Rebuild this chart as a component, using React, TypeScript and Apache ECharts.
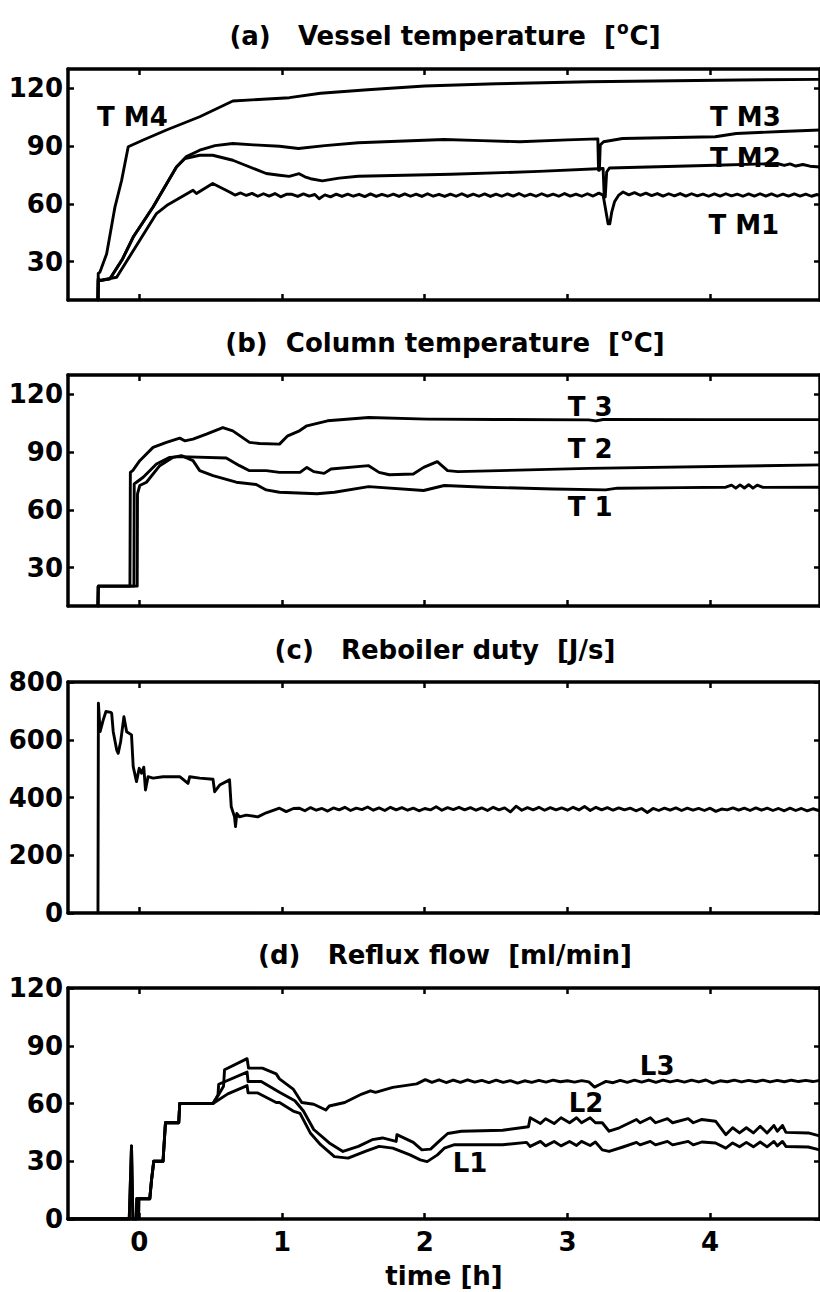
import React, { useEffect, useRef } from 'react';
import * as echarts from 'echarts';

// ---------- tick labels ----------
const X_TICKS = [0, 1, 2, 3, 4];
const Y_TICKS_TEMP = [30, 60, 90, 120];
const Y_TICKS_DUTY = [0, 200, 400, 600, 800];
const Y_TICKS_FLOW = [0, 30, 60, 90, 120];

// ---------- panel titles ----------
const TITLES = [
  '(a)   Vessel temperature  [{sup|o}C]',
  '(b)  Column temperature  [{sup|o}C]',
  '(c)   Reboiler duty  [J/s]',
  '(d)   Reflux flow  [ml/min]',
];
const X_NAME = 'time [h]';

// ---------- (a) vessel temperatures ----------
const TM4 = [[-0.29,10],[-0.288,23.8],[-0.276,24.5],[-0.229,34],[-0.171,58.3],[-0.124,72.2],[-0.078,89.6],[0.027,93.1],[0.19,98.3],[0.423,105.2],[0.655,113.4],[1.052,115.1],[1.27,117.4],[1.6,119.2],[2.0,121.2],[2.5,122.3],[3.15,123.4],[3.6,123.8],[4.2,124.3],[4.77,124.6]];
const TM3 = [[-0.29,10],[-0.288,21],[-0.276,20.1],[-0.206,21],[-0.12,31],[-0.043,42.7],[0.096,58.3],[0.26,79.1],[0.33,84.5],[0.423,87.8],[0.53,90.2],[0.655,91.3],[0.8,90.6],[0.982,89.9],[1.115,88.7],[1.3,90.2],[1.534,91.7],[2.135,93.4],[2.4,92.8],[2.666,92.2],[3.0,93.2],[3.213,93.7],[3.218,77.4],[3.224,77.4],[3.23,90.5],[3.253,92.2],[3.386,93.9],[4.036,94.8],[4.183,96.5],[4.5,97.5],[4.77,98.3]];
const TM2 = [[-0.29,10],[-0.288,21],[-0.276,20.1],[-0.206,21],[-0.12,31],[-0.043,42.7],[0.096,58.3],[0.26,79.1],[0.32,83.5],[0.423,85.2],[0.514,85.2],[0.655,82.6],[0.889,75.7],[0.982,74.8],[1.05,74.2],[1.12,75.6],[1.16,74],[1.2,73],[1.282,71.9],[1.4,73.3],[1.534,74.3],[2.184,75.3],[2.8,76.8],[3.25,78.3],[3.258,63.5],[3.265,63.5],[3.275,76.5],[3.295,78.6],[4.036,80],[4.47,80.9],[4.52,79.9],[4.56,80.7],[4.6,79.6],[4.65,80.4],[4.7,79.5],[4.77,79.1]];
const TM1 = [[-0.29,10],[-0.288,20.1],[-0.159,21.8],[0.12,54.9],[0.2,59.5],[0.376,67],[0.4,65.3],[0.514,70.5],[0.632,66.1],
  [0.67,64.5],[0.71,65.6],[0.75,64.3],[0.79,65.4],[0.83,63.9],[0.87,65.2],[0.91,64.0],[0.95,65.3],[0.99,63.6],[1.03,64.9],[1.07,64.9],[1.11,63.8],[1.15,65.1],[1.19,64.0],[1.23,64.8],[1.26,62.6],[1.30,64.6],[1.34,63.6],[1.38,65.0],[1.42,63.8],[1.46,65.0],[1.50,63.9],[1.54,64.9],[1.58,63.7],[1.62,65.1],[1.66,63.8],[1.70,64.9],[1.74,63.9],[1.78,65.0],[1.82,63.8],[1.86,65.1],[1.90,63.9],[1.94,65.0],[1.98,63.8],[2.02,65.2],[2.06,63.9],[2.10,64.9],[2.14,63.8],[2.18,65.0],[2.22,63.9],[2.26,65.2],[2.30,63.8],[2.34,65.0],[2.38,63.9],[2.42,65.1],[2.46,63.8],[2.50,65.0],[2.54,63.9],[2.58,65.1],[2.62,64.0],[2.66,65.3],[2.70,63.9],[2.74,65.0],[2.78,63.9],[2.82,65.2],[2.86,64.0],[2.90,65.0],[2.94,63.9],[2.98,65.3],[3.02,64.0],[3.06,65.0],[3.10,63.9],[3.14,65.2],[3.18,64.0],[3.22,65.5],[3.25,64.5],
  [3.285,49.6],[3.297,49.6],[3.31,55.5],[3.33,61],[3.36,64.5],[3.39,66.1],[3.43,64.6],[3.47,65.8],[3.51,64.4],[3.55,65.5],[3.59,64.2],[3.63,65.3],[3.67,64.0],[3.71,65.2],[3.75,64.1],[3.79,65.3],[3.83,64.0],[3.87,65.2],[3.91,64.1],[3.95,65.0],[3.99,63.9],[4.03,65.1],[4.07,64.0],[4.11,65.2],[4.15,64.1],[4.19,65.0],[4.23,63.9],[4.27,65.1],[4.31,64.0],[4.35,65.2],[4.39,64.0],[4.43,65.1],[4.47,63.9],[4.51,65.0],[4.55,64.0],[4.59,65.1],[4.63,64.0],[4.67,65.0],[4.71,63.9],[4.75,64.8],[4.77,64.2]];
const LABELS_A = [
  { name: 'T M4', value: [-0.049, 104.9] },
  { name: 'T M3', value: [4.247, 104.9] },
  { name: 'T M2', value: [4.247, 84] },
  { name: 'T M1', value: [4.236, 48.8] },
];

// ---------- (b) column temperatures ----------
const T3 = [[-0.29,10],[-0.288,20.3],[-0.066,20.3],[-0.063,79.4],[-0.045,80.5],[0.003,85.5],[0.096,92.4],[0.19,95],[0.283,97.2],[0.318,95.8],[0.376,96.7],[0.47,99.3],[0.585,102.7],[0.655,101],[0.772,95],[0.842,94.4],[0.982,94.1],[1.04,98.4],[1.122,101],[1.174,103.6],[1.319,106.2],[1.607,107.9],[2.017,107.1],[2.5,106.9],[3.148,106.7],[3.2,106.2],[3.25,106.9],[4.0,106.8],[4.77,106.8]];
const T2 = [[-0.29,10],[-0.288,20.3],[-0.038,20.3],[-0.036,73.4],[-0.02,74.3],[0.027,76.9],[0.12,83.8],[0.213,87.2],[0.283,87.6],[0.609,86.9],[0.702,82.9],[0.772,80.3],[0.889,80.3],[0.982,79.4],[1.126,79.4],[1.174,82],[1.222,79.8],[1.295,78.9],[1.343,81.2],[1.607,82.9],[1.68,79.4],[1.752,78.2],[1.92,78.6],[1.992,82],[2.088,85],[2.16,80.3],[2.233,79.8],[3.148,81.5],[4.77,83.3]];
const T1 = [[-0.29,10],[-0.288,20.3],[-0.015,20.3],[-0.013,68.3],[0.003,72.6],[0.05,74.3],[0.143,82.9],[0.236,87.2],[0.295,88.1],[0.376,85.5],[0.423,80.3],[0.516,77.7],[0.679,74.3],[0.819,73.1],[0.889,70.3],[0.982,69.1],[1.246,68.3],[1.367,69.1],[1.607,72],[1.992,70],[2.137,72.6],[2.426,71.7],[2.9,70.8],[3.267,70.3],[3.35,71.2],[3.8,71.5],[4.11,71.7],[4.15,72.8],[4.18,71.2],[4.21,72.9],[4.24,71.3],[4.27,73],[4.3,71.2],[4.33,72.8],[4.37,71.6],[4.77,71.7]];
const LABELS_B = [
  { name: 'T 3', value: [3.159, 113.6] },
  { name: 'T 2', value: [3.159, 91.5] },
  { name: 'T 1', value: [3.159, 61.3] },
];

// ---------- (c) reboiler duty ----------
const DUTY = [[-0.29,0],[-0.287,727],[-0.275,628],[-0.253,669],[-0.234,698],[-0.2,695],[-0.194,692],[-0.183,628],[-0.159,565],[-0.148,553],[-0.131,594],[-0.108,680],[-0.089,628],[-0.055,617],[-0.043,507],[-0.02,455],[-0.001,501],[0.015,484],[0.031,505],[0.043,426],[0.061,472],[0.096,467],[0.166,472],[0.283,472],[0.341,449],[0.353,472],[0.423,467],[0.516,463],[0.528,420],[0.563,443],[0.632,461],[0.644,368],[0.667,333],[0.674,299],[0.683,345],[0.702,333],[0.749,339],[0.83,333],[0.889,347],[0.982,363],[1.029,351],[1.08,362],
  [1.12,363],[1.16,354],[1.20,365],[1.24,356],[1.28,362],[1.32,353],[1.36,364],[1.40,357],[1.44,366],[1.48,355],[1.52,363],[1.56,358],[1.60,367],[1.64,356],[1.68,364],[1.72,355],[1.76,366],[1.80,357],[1.84,365],[1.88,356],[1.92,363],[1.96,354],[2.00,362],[2.04,357],[2.08,368],[2.12,356],[2.16,365],[2.20,358],[2.24,366],[2.28,357],[2.32,365],[2.36,356],[2.40,364],[2.44,355],[2.48,366],[2.52,357],[2.56,364],[2.60,350],[2.64,370],[2.68,356],[2.72,365],[2.76,357],[2.80,366],[2.84,356],[2.88,365],[2.92,357],[2.96,364],[3.00,356],[3.04,366],[3.08,357],[3.12,369],[3.16,355],[3.20,366],[3.24,357],[3.28,365],[3.32,356],[3.36,364],[3.40,357],[3.44,363],[3.48,354],[3.52,362],[3.56,348],[3.60,362],[3.64,355],[3.68,363],[3.72,356],[3.76,364],[3.80,355],[3.84,363],[3.88,356],[3.92,362],[3.96,355],[4.00,363],[4.04,352],[4.08,360],[4.12,357],[4.16,364],[4.20,356],[4.24,363],[4.28,355],[4.32,364],[4.36,356],[4.40,363],[4.44,355],[4.48,362],[4.52,354],[4.56,363],[4.60,355],[4.64,362],[4.68,354],[4.72,361],[4.76,355]];

// ---------- (d) reflux flows ----------
const L3 = [[-0.5,0],[-0.071,0],[-0.055,38],[-0.045,0],[-0.022,0],[-0.018,10.5],[0.073,10.5],[0.085,20],[0.101,30],[0.166,30],[0.183,50],[0.276,50],[0.283,60],[0.516,60],[0.551,64],[0.59,69],[0.597,77.5],[0.755,83.3],[0.765,78.4],[0.862,78.4],[0.959,75.4],[0.982,72.8],[1.078,67.5],[1.138,60.5],[1.222,59.6],[1.307,56.6],[1.331,58.7],[1.439,60.5],[1.559,64.9],[1.62,66.6],[1.655,65.8],[1.776,68.4],[1.944,70.2],[2.004,72.4],
  [2.05,71.0],[2.10,72.3],[2.15,70.9],[2.20,72.2],[2.25,71.0],[2.30,72.3],[2.35,71.1],[2.40,72.0],[2.45,70.9],[2.50,72.1],[2.55,71.0],[2.60,71.9],[2.65,70.6],[2.70,71.8],[2.75,71.0],[2.80,72.0],[2.85,71.1],[2.90,72.1],[2.95,71.3],[3.00,71.8],[3.05,71.1],[3.10,71.9],[3.15,71.2],[3.19,68.5],[3.23,70.0],[3.27,71.5],[3.32,70.8],[3.37,72.0],[3.42,71.0],[3.47,72.1],[3.52,71.1],[3.57,72.2],[3.62,71.0],[3.67,72.1],[3.72,71.2],[3.77,72.0],[3.82,71.1],[3.87,72.1],[3.92,71.2],[3.97,72.2],[4.02,70.6],[4.07,71.8],[4.12,71.3],[4.17,72.1],[4.22,71.2],[4.27,72.0],[4.32,71.3],[4.37,72.1],[4.42,71.2],[4.47,72.0],[4.52,71.3],[4.57,72.1],[4.62,71.4],[4.67,72.0],[4.72,71.4],[4.76,71.9]];
const L2 = [[-0.5,0],[-0.071,0],[-0.055,38],[-0.045,0],[-0.022,0],[-0.018,10.5],[0.073,10.5],[0.085,20],[0.101,30],[0.166,30],[0.183,50],[0.276,50],[0.283,60],[0.516,60],[0.54,63],[0.551,64.5],[0.556,70],[0.755,76.3],[0.762,71.4],[0.854,71.4],[0.982,65.8],[1.09,61.4],[1.15,56.1],[1.222,46.5],[1.331,39.5],[1.427,35.1],[1.535,37.7],[1.632,41.2],[1.704,42.1],[1.8,40.3],[1.805,43.8],[1.92,39.8],[1.98,35.9],[2.041,36.3],[2.113,41.2],[2.161,44.4],[2.257,45.6],[2.546,46.1],[2.727,47.9],
  [2.739,52.6],[2.811,49.6],[2.847,52.1],[2.907,49.6],[2.955,52.6],[3.015,50],[3.064,52.6],[3.099,50],[3.159,52.6],[3.196,50],[3.244,50],[3.292,45.6],[3.364,47.4],[3.484,51.7],[3.509,50],[3.581,52.6],[3.617,50],[3.701,52.1],[3.737,50],[3.846,52.1],[3.882,50],[3.942,51.7],[4.038,50.8],[4.11,43.8],[4.158,47.4],[4.206,44.7],[4.254,47.4],[4.303,44.7],[4.351,48.2],[4.399,44.7],[4.447,48.6],[4.471,45.6],[4.507,48.6],[4.531,45],[4.688,44.7],[4.76,43.3]];
const L1 = [[-0.5,0],[-0.005,0],[-0.002,10.5],[0.073,10.5],[0.085,20],[0.101,30],[0.166,30],[0.183,50],[0.276,50],[0.283,60],[0.516,60],[0.62,65],[0.755,69.3],[0.762,65.5],[0.83,65.5],[0.959,60.5],[0.982,60.5],[1.078,56.1],[1.126,54.9],[1.198,44.7],[1.27,38.6],[1.367,32.4],[1.463,31.6],[1.583,35.1],[1.68,37.7],[1.776,36.8],[1.897,33.3],[1.969,30.7],[2.017,29.8],[2.089,33.3],[2.137,36.8],[2.209,38.6],[2.546,38.6],[2.714,39.8],[2.739,37.7],
  [2.811,40.3],[2.847,38],[2.907,40.3],[2.955,38],[3.015,40.3],[3.064,38.2],[3.099,40.3],[3.159,38.2],[3.196,40],[3.244,35.9],[3.292,35.1],[3.389,37.4],[3.484,39.8],[3.509,38.5],[3.581,40.3],[3.617,38.5],[3.701,40.3],[3.737,38.5],[3.846,40.3],[3.882,38.5],[3.942,40],[4.038,39.5],[4.11,36.8],[4.158,39.5],[4.206,37.5],[4.254,39.8],[4.303,37.5],[4.351,40],[4.399,37.5],[4.447,40.3],[4.471,38],[4.507,40.3],[4.531,37.7],[4.688,37.4],[4.76,36]];
const LABELS_D = [
  { name: 'L3', value: [3.629, 79.5] },
  { name: 'L2', value: [3.131, 60.2] },
  { name: 'L1', value: [2.317, 29] },
];

// ---------- layout ----------
const FONT = 'DejaVu Sans';
const BLACK = '#000';
const GRID_LEFT = 68;
const GRID_WIDTH = 754;
const GRID_TOPS = [69, 375, 682, 988];
const GRID_H = 231;
const TITLE_Y = [36, 343, 650, 955];
const X_MIN = -0.5;
const X_MAX = 4.77;
const Y_RANGES = [[10, 130], [10, 130], [0, 800], [0, 120]];
const Y_TICKS = [Y_TICKS_TEMP, Y_TICKS_TEMP, Y_TICKS_DUTY, Y_TICKS_FLOW];

const textBase = { color: BLACK, fontSize: 26, fontWeight: 'bold', fontFamily: FONT };

function lineSeries(data: number[][], gi: number) {
  return {
    type: 'line', xAxisIndex: gi * 2, yAxisIndex: gi * 2, data,
    showSymbol: false, symbol: 'none', silent: true, clip: true, z: 3,
    lineStyle: { color: BLACK, width: 2.9, join: 'round', cap: 'round' },
  };
}
function labelSeries(data: any[], gi: number) {
  return {
    type: 'scatter', xAxisIndex: gi * 2, yAxisIndex: gi * 2, data,
    symbolSize: 1, itemStyle: { color: 'rgba(255,255,255,0)', opacity: 1 }, silent: true, z: 5,
    label: { show: true, position: 'inside', formatter: '{b}', opacity: 1, textBorderWidth: 0, ...textBase },
  };
}

export default function App() {
  const ref = useRef<HTMLDivElement>(null);
  useEffect(() => {
    if (!ref.current) return;
    const chart = echarts.init(ref.current, null, { renderer: 'svg' });
    const axisLine = { show: true, onZero: false, lineStyle: { color: BLACK, width: 3.5 } };
    const grid: any[] = [];
    const xAxis: any[] = [];
    const yAxis: any[] = [];
    for (let i = 0; i < 4; i++) {
      grid.push({ left: GRID_LEFT, top: GRID_TOPS[i], width: GRID_WIDTH, height: GRID_H });
      const isLast = i === 3;
      xAxis.push({
        gridIndex: i, type: 'value', min: X_MIN, max: X_MAX, position: 'bottom',
        axisLine, splitLine: { show: false },
        axisTick: { show: true, inside: true, length: 6, lineStyle: { color: BLACK, width: 2.5 }, customValues: X_TICKS },
        axisLabel: { show: isLast, customValues: X_TICKS, margin: 10, ...textBase },
        name: isLast ? X_NAME : '', nameLocation: 'middle', nameGap: 44,
        nameTextStyle: { ...textBase, verticalAlign: 'top' },
      });
      xAxis.push({
        gridIndex: i, type: 'value', min: X_MIN, max: X_MAX, position: 'top',
        axisLine, splitLine: { show: false },
        axisTick: { show: true, inside: true, length: 6, lineStyle: { color: BLACK, width: 2.5 }, customValues: X_TICKS },
        axisLabel: { show: false },
      });
      yAxis.push({
        gridIndex: i, type: 'value', min: Y_RANGES[i][0], max: Y_RANGES[i][1], position: 'left',
        axisLine, splitLine: { show: false },
        axisTick: { show: true, inside: true, length: 6, lineStyle: { color: BLACK, width: 2.5 }, customValues: Y_TICKS[i] },
        axisLabel: { show: true, customValues: Y_TICKS[i], margin: 5, ...textBase },
      });
      yAxis.push({
        gridIndex: i, type: 'value', min: Y_RANGES[i][0], max: Y_RANGES[i][1], position: 'right',
        axisLine, splitLine: { show: false },
        axisTick: { show: true, inside: true, length: 6, lineStyle: { color: BLACK, width: 2.5 }, customValues: Y_TICKS[i] },
        axisLabel: { show: false },
      });
    }
    const graphic = TITLES.map((t, i) => ({
      type: 'text', x: GRID_LEFT + 377, y: TITLE_Y[i], silent: true,
      style: {
        text: t, fill: BLACK, fontSize: 26, fontWeight: 'bold', fontFamily: FONT,
        align: 'center', verticalAlign: 'middle',
        rich: { sup: { fontSize: 17, fontWeight: 'bold', fontFamily: FONT, fill: BLACK, lineHeight: 17, padding: [0, 1, 16, 1] } },
      },
    }));
    chart.setOption({
      animation: false,
      backgroundColor: '#fff',
      grid, xAxis, yAxis, graphic,
      series: [
        lineSeries(TM4, 0), lineSeries(TM3, 0), lineSeries(TM2, 0), lineSeries(TM1, 0), labelSeries(LABELS_A, 0),
        lineSeries(T3, 1), lineSeries(T2, 1), lineSeries(T1, 1), labelSeries(LABELS_B, 1),
        lineSeries(DUTY, 2),
        lineSeries(L3, 3), lineSeries(L2, 3), lineSeries(L1, 3), labelSeries(LABELS_D, 3),
      ],
    });
    return () => chart.dispose();
  }, []);
  return <div ref={ref} style={{ position: 'absolute', left: 0, top: 0, width: 820, height: 1292 }} />;
}
